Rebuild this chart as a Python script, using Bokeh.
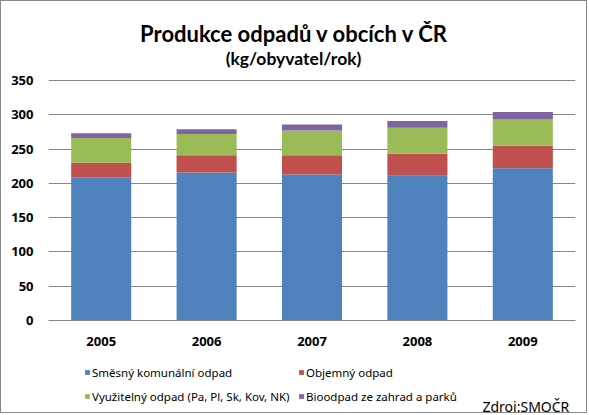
from bokeh.plotting import figure
from bokeh.models import (FactorRange, Range1d, FixedTicker, Legend, LegendItem, Label)
from bokeh.embed import file_html
from bokeh.resources import INLINE

years = ["2005", "2006", "2007", "2008", "2009"]
smesny = [209, 216, 213, 211, 222]
objemny = [21, 25, 28, 32, 33]
vyuzitelny = [36, 31, 36, 38, 38]
bioodpad = [7, 7, 9, 10, 11]
series_names = ["Směsný komunální odpad", "Objemný odpad",
                "Využitelný odpad (Pa, Pl, Sk, Kov, NK)", "Bioodpad ze zahrad a parků"]
keys = ["smesny", "objemny", "vyuzitelny", "bioodpad"]
colors = ["#4F81BD", "#C0504D", "#9BBB59", "#8064A2"]
y_ticks = [0, 50, 100, 150, 200, 250, 300, 350]
title_text = "Produkce odpadů v obcích v ČR"
subtitle_text = "(kg/obyvatel/rok)"
source_text = "Zdroj:SMOČR"

data = dict(years=years, smesny=smesny, objemny=objemny,
            vyuzitelny=vyuzitelny, bioodpad=bioodpad)

# canvas 587x413 inside a 1px border; frame spans full height so that
# titles and legend (inside the frame) are not clipped
W, H = 587, 413
L, FW = 47, 527
Y0_PX, Y350_PX = 319, 79          # canvas rows of value 0 and 350
k = 350 / (Y0_PX - Y350_PX)
p = figure(x_range=FactorRange(*years),
           y_range=Range1d(-(H - Y0_PX) * k, Y0_PX * k),
           width=W, height=H, output_backend="svg", toolbar_location=None,
           min_border_left=L, min_border_top=0,
           min_border_right=W - L - FW, min_border_bottom=0)
p.styles = {"border": "1px solid #878787"}
p.x_range.range_padding = 0

rs = p.vbar_stack(keys, x="years", width=0.57, color=colors, source=data,
                  line_color=None)

p.outline_line_color = None
p.xgrid.grid_line_color = None
p.ygrid.grid_line_color = "#878787"
p.ygrid.ticker = FixedTicker(ticks=y_ticks)
p.yaxis.ticker = FixedTicker(ticks=y_ticks)
p.yaxis.axis_line_color = None
p.yaxis.major_tick_line_color = None
p.yaxis.minor_tick_line_color = None
p.yaxis.major_tick_out = 0
p.yaxis.major_label_standoff = 15
p.xaxis.fixed_location = 0
p.xaxis.axis_line_color = "#878787"
p.xaxis.major_tick_line_color = None
p.xaxis.major_tick_out = 0
p.xaxis.major_label_standoff = 16
for ax in (p.xaxis[0], p.yaxis[0]):
    ax.major_label_text_font = "Open Sans"
    ax.major_label_text_font_style = "bold"
    ax.major_label_text_font_size = "13px"
    ax.major_label_text_color = "#000000"

leg_kw = dict(padding=0, margin=0, border_line_alpha=0, background_fill_alpha=0,
              glyph_width=6, glyph_height=6, label_standoff=2, label_height=20,
              spacing=4, label_text_font="Noto Sans", label_text_font_size="11.5px",
              label_text_color="#000000")
leg1 = Legend(items=[LegendItem(label=series_names[0], renderers=[rs[0]]),
                     LegendItem(label=series_names[2], renderers=[rs[2]])],
              location=(36, 8), **leg_kw)
leg2 = Legend(items=[LegendItem(label=series_names[1], renderers=[rs[1]]),
                     LegendItem(label=series_names[3], renderers=[rs[3]])],
              location=(250, 8), **leg_kw)
p.add_layout(leg1)
p.add_layout(leg2)

p.add_layout(Label(x=246, y=381, x_units="screen", y_units="screen", text=title_text,
                   text_align="center", text_baseline="alphabetic",
                   text_font="Lato", text_font_style="bold", text_font_size="22px",
                   text_color="#000000"))
p.add_layout(Label(x=245, y=356, x_units="screen", y_units="screen", text=subtitle_text,
                   text_align="center", text_baseline="alphabetic",
                   text_font="Lato", text_font_style="bold", text_font_size="17.5px",
                   text_color="#000000"))
p.add_layout(Label(x=434, y=8, x_units="screen", y_units="screen", text=source_text,
                   text_align="left", text_baseline="alphabetic",
                   text_font="Noto Sans", text_font_size="14px", text_color="#000000"))

open("out.html", "w").write(file_html(p, INLINE))
